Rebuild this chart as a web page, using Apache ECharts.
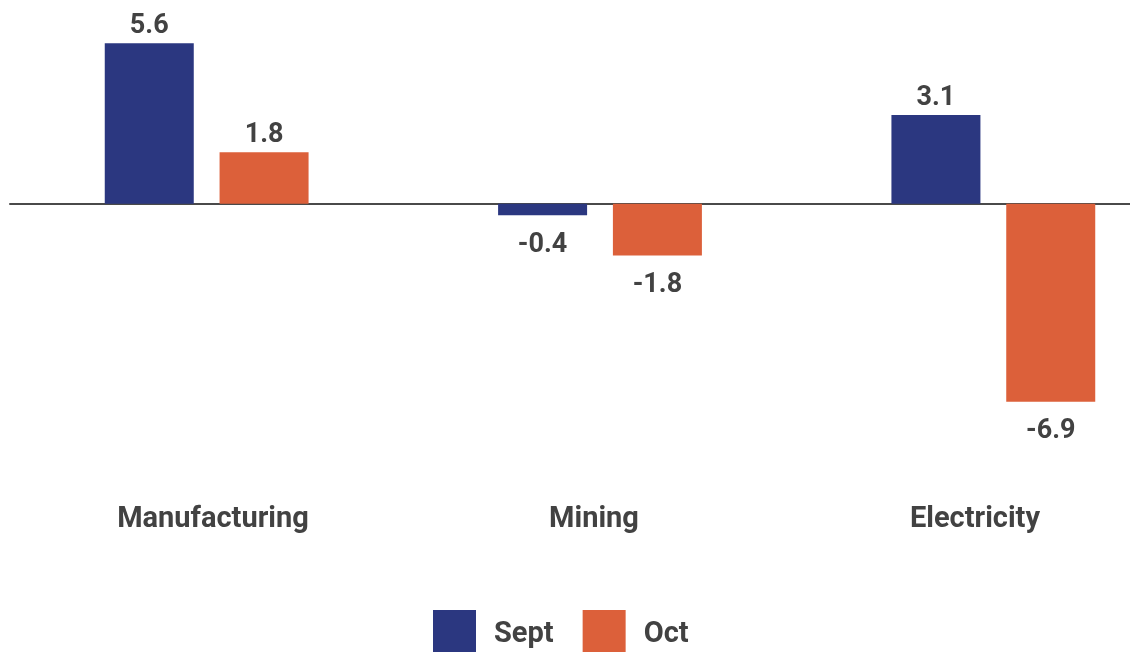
<!DOCTYPE html>
<html>
<head>
<meta charset="utf-8">
<script src="https://cdn.jsdelivr.net/npm/echarts@6/dist/echarts.min.js"></script>
<style>
  html, body { margin: 0; padding: 0; background: #fff; }
  #chart { width: 1130px; height: 652px; }
</style>
</head>
<body>
<div id="chart"></div>
<script>
// data
const categories = ['Manufacturing', 'Mining', 'Electricity'];
const seriesNames = ['Sept', 'Oct'];
const septValues = [5.6, -0.4, 3.1];
const octValues = [1.8, -1.8, -6.9];

const textColor = '#424242';
const fontFamily = 'Roboto, "Noto Sans", sans-serif';

// label above for positive, below for negative
function withLabels(values) {
  return values.map(v => ({
    value: v,
    label: v < 0 ? { position: 'bottom', distance: 16 } : { position: 'top', distance: 3 }
  }));
}

const chart = echarts.init(document.getElementById('chart'));

const option = {
  animation: false,
  color: ['#2b3780', '#dc603a'],
  textStyle: { fontFamily: fontFamily },
  grid: [
    { left: 10, right: -60, top: 3, bottom: 190, outerBoundsMode: 'none' },
    { left: 22.5, right: -35.5, top: 3, bottom: 190, outerBoundsMode: 'none' }
  ],
  legend: {
    data: seriesNames,
    left: 433,
    top: 610,
    padding: 0,
    itemWidth: 43,
    itemHeight: 42,
    itemGap: 29,
    icon: 'rect',
    formatter: '{t|{name}}',
    textStyle: {
      color: textColor,
      fontSize: 29,
      fontWeight: 'bold',
      fontFamily: fontFamily,
      padding: [0, 0, 0, 13],
      rich: {
        t: {
          color: textColor,
          fontSize: 29,
          fontWeight: 'bold',
          fontFamily: fontFamily,
          padding: [8, 0, 0, 0]
        }
      }
    }
  },
  xAxis: [
    {
      type: 'category',
      gridIndex: 0,
      data: categories,
      axisLine: { onZero: true, lineStyle: { color: '#4a4a4a', width: 2 } },
      axisTick: { show: false },
      axisLabel: { show: false }
    },
    {
      type: 'category',
      gridIndex: 1,
      data: categories,
      position: 'bottom',
      axisLine: { show: false },
      axisTick: { show: false },
      axisLabel: {
        color: textColor,
        fontSize: 29,
        fontWeight: 'bold',
        fontFamily: fontFamily,
        margin: 43
      }
    }
  ],
  yAxis: [
    { type: 'value', gridIndex: 0, min: -9, max: 7, show: false, splitLine: { show: false } },
    { type: 'value', gridIndex: 1, min: -9, max: 7, show: false, splitLine: { show: false } }
  ],
  series: [
    {
      name: seriesNames[0],
      type: 'bar',
      barWidth: 89,
      barGap: '29%',
      data: withLabels(septValues),
      label: {
        show: true,
        color: textColor,
        fontSize: 27,
        fontWeight: 'bold',
        fontFamily: fontFamily
      }
    },
    {
      name: seriesNames[1],
      type: 'bar',
      barWidth: 89,
      barGap: '29%',
      data: withLabels(octValues),
      label: {
        show: true,
        color: textColor,
        fontSize: 27,
        fontWeight: 'bold',
        fontFamily: fontFamily
      }
    }
  ]
};

chart.setOption(option);
</script>
</body>
</html>
